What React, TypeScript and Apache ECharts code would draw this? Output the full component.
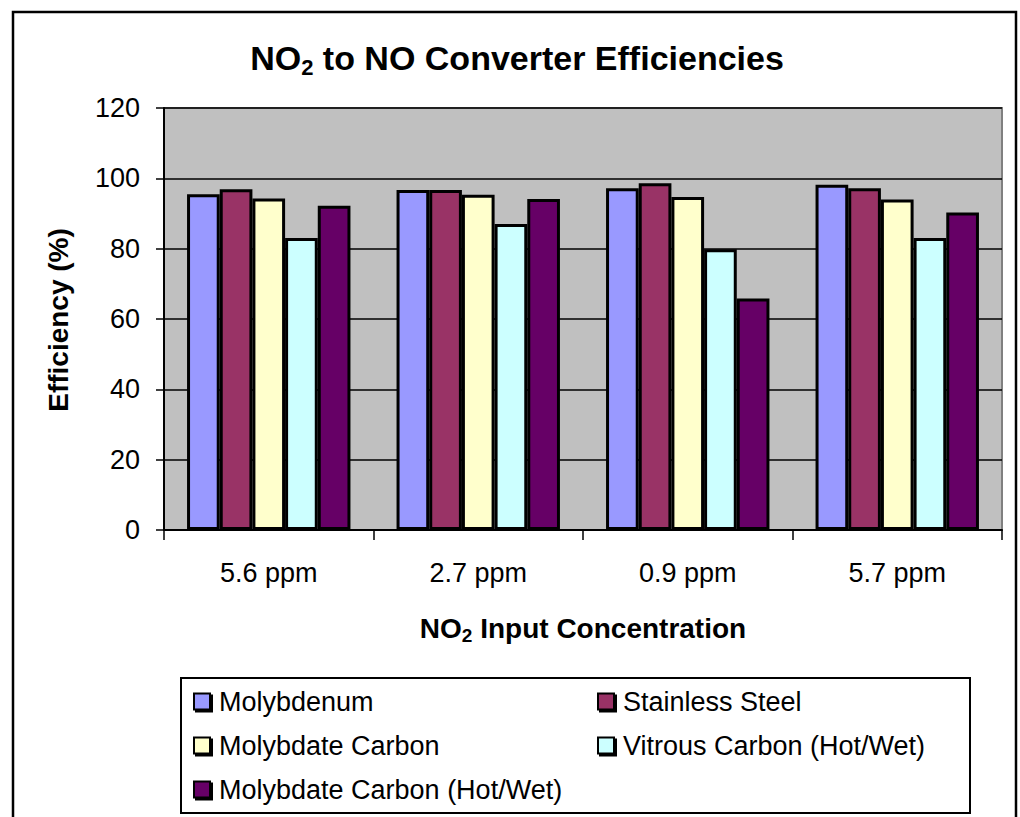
import React, { useEffect, useRef } from "react";
import * as echarts from "echarts";

const categories = ["5.6 ppm", "2.7 ppm", "0.9 ppm", "5.7 ppm"];
const seriesNames = [
  "Molybdenum",
  "Stainless Steel",
  "Molybdate Carbon",
  "Vitrous Carbon (Hot/Wet)",
  "Molybdate Carbon (Hot/Wet)",
];
const molybdenum = [95.5, 96.7, 97.2, 98.2];
const stainlessSteel = [96.9, 96.7, 98.6, 97.2];
const molybdateCarbon = [94.3, 95.3, 94.7, 94.0];
const vitrousCarbon = [83.0, 87.0, 79.8, 83.0];
const molybdateCarbonHotWet = [92.2, 94.1, 65.8, 90.3];
const seriesValues = [molybdenum, stainlessSteel, molybdateCarbon, vitrousCarbon, molybdateCarbonHotWet];
const colors = ["#9999FF", "#993366", "#FFFFCC", "#CCFFFF", "#660066"];
const yTicks = { min: 0, max: 120, interval: 20 };

const FONT = "'Liberation Sans', Arial, sans-serif";

export default function App() {
  const ref = useRef<HTMLDivElement>(null);
  useEffect(() => {
    if (!ref.current) return;
    const chart = echarts.init(ref.current, null, { renderer: "svg" });
    const legendPos = [
      [193, 688],
      [597, 688],
      [193, 732],
      [597, 732],
      [193, 776],
    ];
    chart.setOption({
      animation: false,
      backgroundColor: "#ffffff",
      textStyle: { fontFamily: FONT },
      grid: {
        left: 164,
        right: 18,
        top: 108,
        bottom: 287,
        show: true,
        backgroundColor: "#C0C0C0",
        borderColor: "#808080",
        borderWidth: 2,
      },
      xAxis: {
        type: "category",
        data: categories,
        axisLine: { show: true, lineStyle: { color: "#000", width: 2 } },
        axisTick: { show: true, length: 10, lineStyle: { color: "#000", width: 1.5 } },
        axisLabel: { fontSize: 27, color: "#000", margin: 29, fontFamily: FONT },
        splitLine: { show: false },
      },
      yAxis: {
        type: "value",
        min: yTicks.min,
        max: yTicks.max,
        interval: yTicks.interval,
        axisLine: { show: true, lineStyle: { color: "#000", width: 2 } },
        axisTick: { show: true, length: 8, lineStyle: { color: "#000", width: 1.5 } },
        axisLabel: { fontSize: 27, color: "#000", margin: 24, fontFamily: FONT },
        splitLine: { show: true, lineStyle: { color: "#000", width: 1.5 } },
      },
      legend: seriesNames.map((n, i) => ({
        data: [n],
        left: legendPos[i][0],
        top: legendPos[i][1],
        padding: 0,
        icon: "rect",
        itemWidth: 16,
        itemHeight: 16,
        itemGap: 0,
        selectedMode: false,
        textStyle: { fontSize: 27, color: "#000", fontFamily: FONT, padding: [0, 0, 0, 4] },
        itemStyle: {
          borderColor: "#000",
          borderWidth: 2,
          shadowColor: "#000",
          shadowOffsetX: 2,
          shadowOffsetY: 2,
          shadowBlur: 0,
        },
      })),
      series: seriesNames.map((n, i) => ({
        name: n,
        type: "bar",
        data: seriesValues[i],
        barGap: "0%",
        barCategoryGap: "22%",
        itemStyle: { color: colors[i], borderColor: "#000", borderWidth: 3 },
      })),
      graphic: [
        {
          type: "rect",
          shape: { x: 13, y: 12, width: 1003, height: 900 },
          style: { fill: "none", stroke: "#000", lineWidth: 2.5 },
          silent: true,
        },
        {
          type: "rect",
          shape: { x: 181, y: 678, width: 789, height: 135 },
          style: { fill: "none", stroke: "#000", lineWidth: 2 },
          silent: true,
        },
        {
          type: "text",
          x: 517,
          y: 58,
          style: {
            text: "{a|NO}{s|2}{a| to NO Converter Efficiencies}",
            align: "center",
            verticalAlign: "middle",
            rich: {
              a: { fontSize: 34, fontWeight: "bold", fontFamily: FONT, color: "#000", lineHeight: 40 },
              s: { fontSize: 22, fontWeight: "bold", fontFamily: FONT, color: "#000", lineHeight: 22, verticalAlign: "bottom" },
            },
          },
        },
        {
          type: "text",
          x: 583,
          y: 628,
          style: {
            text: "{a|NO}{s|2}{a| Input Concentration}",
            align: "center",
            verticalAlign: "middle",
            rich: {
              a: { fontSize: 28, fontWeight: "bold", fontFamily: FONT, color: "#000", lineHeight: 34 },
              s: { fontSize: 19, fontWeight: "bold", fontFamily: FONT, color: "#000", lineHeight: 19, verticalAlign: "bottom" },
            },
          },
        },
        {
          type: "text",
          x: 58,
          y: 320,
          rotation: Math.PI / 2,
          style: {
            text: "Efficiency (%)",
            align: "center",
            verticalAlign: "middle",
            fontSize: 28,
            fontWeight: "bold",
            fontFamily: FONT,
            fill: "#000",
          },
        },
      ],
    });
    return () => chart.dispose();
  }, []);
  return (
    <div
      ref={ref}
      style={{ position: "fixed", left: 0, top: 0, width: 1020, height: 817 }}
    />
  );
}
